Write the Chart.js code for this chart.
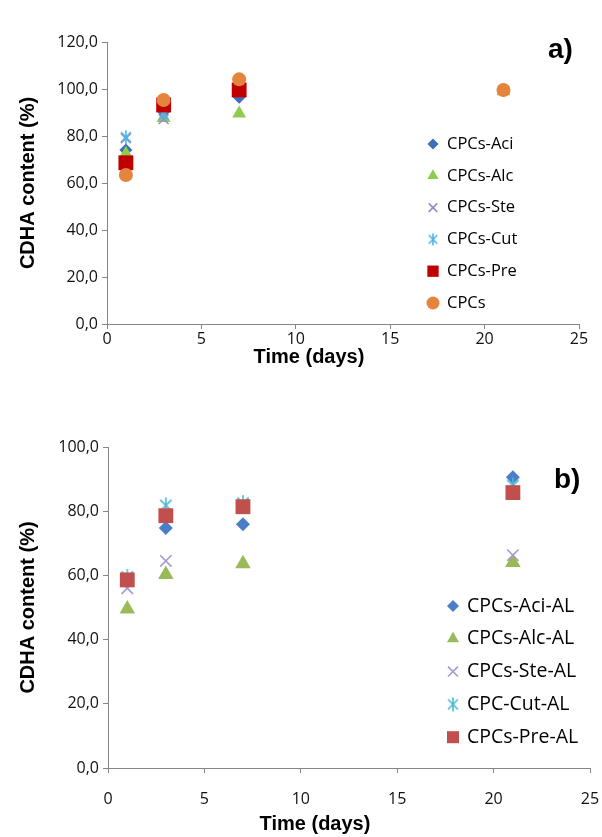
<!DOCTYPE html>
<html><head><meta charset="utf-8">
<script src="https://cdn.jsdelivr.net/npm/chart.js@4.4.1/dist/chart.umd.min.js"></script>
<style>
body{margin:0;background:#fff;width:602px;height:837px;position:relative;overflow:hidden;}
canvas{position:absolute;left:0;}
#c1{top:0;} #c2{top:395px;}
.lab{position:absolute;font:bold 28px "Liberation Sans",Arial,sans-serif;color:#000;}
.xt{position:absolute;width:200px;text-align:center;font:bold 20px/24px "Liberation Sans",Arial,sans-serif;color:#000;}
</style></head><body>
<canvas id="c1" width="602" height="395"></canvas>
<canvas id="c2" width="602" height="442"></canvas>
<div class="lab" style="left:548px;top:33px">a)</div>
<div class="lab" style="left:554px;top:463px">b)</div>
<div class="xt" id="xt1" style="left:209px;top:344px"></div>
<div class="xt" id="xt2" style="left:215px;top:811px"></div>
<script>
// ---- data ----
const days = [1, 3, 7, 21];
const xTicks = [0, 5, 10, 15, 20, 25];
const yTicksA = [0, 20, 40, 60, 80, 100, 120];
const yTicksB = [0, 20, 40, 60, 80, 100];
const xTitle = 'Time (days)';
const yTitle = 'CDHA content (%)';

const namesA = ['CPCs-Aci', 'CPCs-Alc', 'CPCs-Ste', 'CPCs-Cut', 'CPCs-Pre', 'CPCs'];
const aciA = [74, 90.3, 96.5, 99.5];
const alcA = [72.5, 87.7, 89.6, 99];
const steA = [79, 87.2, 99.5, null];
const cutA = [79.5, 89, 100, null];
const preA = [68.6, 93.2, 99.6, null];
const cpcA = [63.4, 95.3, 104.1, 99.6];

const namesB = ['CPCs-Aci-AL', 'CPCs-Alc-AL', 'CPCs-Ste-AL', 'CPC-Cut-AL', 'CPCs-Pre-AL'];
const aciB = [58, 74.8, 75.9, 90.6];
const alcB = [49.5, 60.3, 63.6, 64];
const steB = [56, 64.5, 82, 66.3];
const cutB = [59.5, 81.8, 82.5, 88];
const preB = [58.6, 78.6, 81.4, 85.8];

document.getElementById('xt1').textContent = xTitle;
document.getElementById('xt2').textContent = xTitle;

// ---- helpers ----
function asterisk(color, size, lw) {
  const c = document.createElement('canvas');
  c.width = size; c.height = size;
  const g = c.getContext('2d');
  g.strokeStyle = color; g.lineWidth = lw; g.lineCap = 'butt';
  const m = size / 2, r = size / 2 - 1;
  g.beginPath();
  g.moveTo(m, m - r); g.lineTo(m, m + r);
  const d = r * Math.SQRT1_2;
  g.moveTo(m - d, m - d); g.lineTo(m + d, m + d);
  g.moveTo(m - d, m + d); g.lineTo(m + d, m - d);
  g.stroke();
  return c;
}
function pts(vals) { return days.map((d, i) => vals[i] == null ? null : {x: d, y: vals[i]}).filter(p => p); }
const fmt = v => v.toFixed(1).replace('.', ',');

const legendPlugin = {
  id: 'customLegend',
  afterDraw(chart) {
    const o = chart.options.plugins.customLegend;
    if (!o) return;
    const ctx = chart.ctx;
    ctx.save();
    chart.data.datasets.forEach((ds, i) => {
      const y = o.y0 + i * o.dy;
      const st = ds.legendStyle;
      ctx.fillStyle = ds.backgroundColor;
      ctx.strokeStyle = ds.borderColor;
      ctx.lineWidth = st.borderWidth;
      Chart.helpers.drawPoint(ctx, {pointStyle: st.pointStyle, radius: st.radius, rotation: 0, borderWidth: st.borderWidth}, o.mx, y);
      ctx.fillStyle = '#000';
      ctx.font = o.font;
      ctx.textBaseline = 'middle';
      ctx.textAlign = 'left';
      ctx.fillText(ds.label, o.tx, y);
    });
    ctx.restore();
  }
};

function makeDatasets(names, series, styles) {
  const n = names.length;
  return names.map((nm, i) => {
    const s = styles[i];
    return {
      label: nm,
      data: pts(series[i]),
      pointStyle: s.pointStyle,
      pointRadius: s.radius,
      pointHoverRadius: s.radius,
      backgroundColor: s.color,
      borderColor: s.color,
      pointBorderWidth: s.borderWidth,
      showLine: false,
      order: n - 1 - i,
      legendStyle: {pointStyle: s.legendPointStyle || s.pointStyle, radius: s.legendRadius, borderWidth: s.borderWidth}
    };
  });
}

function makeOptions(cfg) {
  return {
    responsive: false,
    animation: false,
    devicePixelRatio: 1,
    layout: {padding: {top: cfg.padTop, right: cfg.padRight, bottom: 0, left: 0}},
    plugins: {legend: {display: false}, tooltip: {enabled: false}, customLegend: cfg.legend},
    scales: {
      x: {
        type: 'linear', min: 0, max: 25,
        afterBuildTicks: s => { s.ticks = xTicks.map(v => ({value: v})); },
        afterFit: s => { s.height = cfg.xHeight; s.paddingRight = 0; s.paddingLeft = 0; },
        grid: {display: true, drawOnChartArea: false, drawTicks: true, tickLength: 5, color: '#868686', lineWidth: 1},
        border: {display: true, color: '#868686', width: 1},
        ticks: {color: '#111', font: {family: '"Open Sans"', size: 16}, padding: cfg.xPad, maxRotation: 0},
        title: {display: false}
      },
      y: {
        type: 'linear', min: 0, max: cfg.yMax,
        afterBuildTicks: s => { s.ticks = cfg.yTicks.map(v => ({value: v})); },
        afterFit: s => { s.width = cfg.yWidth; },
        grid: {display: true, drawOnChartArea: false, drawTicks: true, tickLength: 5, color: '#868686', lineWidth: 1},
        border: {display: true, color: '#868686', width: 1},
        ticks: {color: '#111', font: {family: '"Open Sans"', size: 16}, padding: 4, callback: v => fmt(v)},
        title: {display: true, text: yTitle, color: '#000', font: {family: '"Liberation Sans"', size: 20, weight: 'bold'}, padding: {top: 16, bottom: 0}}
      }
    }
  };
}

const stylesA = [
  {pointStyle: 'rectRot', radius: 6.5, color: '#3F6FBA', borderWidth: 0, legendRadius: 5.5},
  {pointStyle: 'triangle', radius: 8, color: '#8FCB4C', borderWidth: 0, legendRadius: 6.5},
  {pointStyle: 'crossRot', radius: 7, color: '#9A88CC', borderWidth: 1.6, legendRadius: 6},
  {pointStyle: asterisk('#4FB3E6', 16, 1.6), radius: 8, color: '#4FB3E6', borderWidth: 1.6, legendPointStyle: asterisk('#4FB3E6', 14, 1.6), legendRadius: 7},
  {pointStyle: 'rect', radius: 10.5, color: '#C00000', borderWidth: 0, legendRadius: 8},
  {pointStyle: 'circle', radius: 7, color: '#E5843C', borderWidth: 0, legendRadius: 6.5}
];
const stylesB = [
  {pointStyle: 'rectRot', radius: 7, color: '#4A7EC6', borderWidth: 0, legendRadius: 6},
  {pointStyle: 'triangle', radius: 9, color: '#98BB58', borderWidth: 0, legendRadius: 7},
  {pointStyle: 'crossRot', radius: 8, color: '#A699CE', borderWidth: 1.6, legendRadius: 7},
  {pointStyle: asterisk('#4BB8D6', 18, 1.6), radius: 9, color: '#4BB8D6', borderWidth: 1.6, legendPointStyle: asterisk('#4BB8D6', 16, 1.6), legendRadius: 8},
  {pointStyle: 'rect', radius: 10.5, color: '#C0504D', borderWidth: 0, legendRadius: 8.5}
];

new Chart(document.getElementById('c1'), {
  type: 'scatter',
  data: {datasets: makeDatasets(namesA, [aciA, alcA, steA, cutA, preA, cpcA], stylesA)},
  options: makeOptions({padTop: 42, padRight: 23, xHeight: 71, yWidth: 107, yMax: 120, yTicks: yTicksA, xPad: 1,
    legend: {mx: 433, tx: 447, y0: 144, dy: 31.8, font: '16.5px "Open Sans"'}}),
  plugins: [legendPlugin]
});
new Chart(document.getElementById('c2'), {
  type: 'scatter',
  data: {datasets: makeDatasets(namesB, [aciB, alcB, steB, cutB, preB], stylesB)},
  options: makeOptions({padTop: 52, padRight: 12, xHeight: 69, yWidth: 108, yMax: 100, yTicks: yTicksB, xPad: 17,
    legend: {mx: 453, tx: 467, y0: 606 - 395, dy: 32.8, font: '19.5px "Open Sans"'}}),
  plugins: [legendPlugin]
});
</script>
</body></html>
